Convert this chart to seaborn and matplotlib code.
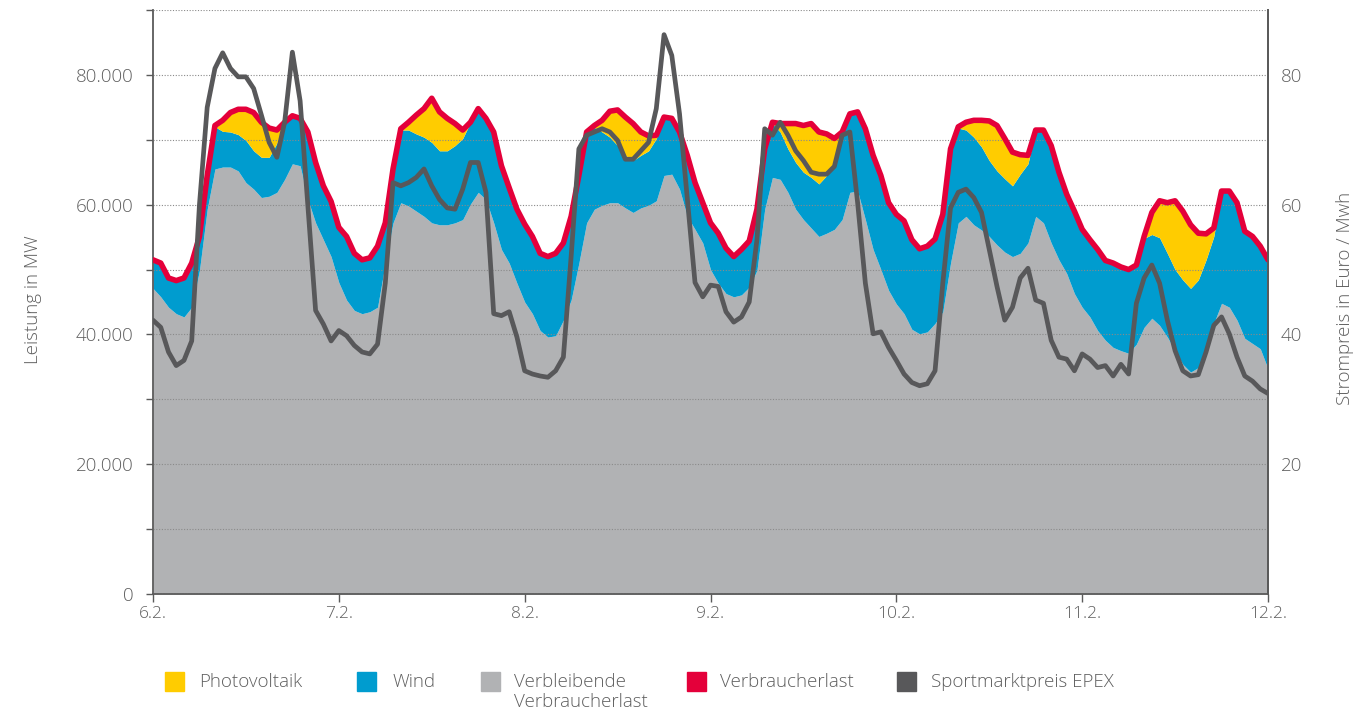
import numpy as np
import pandas as pd
import matplotlib
matplotlib.use("Agg")
import matplotlib.pyplot as plt
from matplotlib.patches import Rectangle
from matplotlib.ticker import FuncFormatter
import seaborn as sns

# ---------------- data (hourly, 6.2. 00:00 ... 12.2. 00:00), values in 1000 MW / EUR/MWh
day_labels = ["6.2.", "7.2.", "8.2.", "9.2.", "10.2.", "11.2.", "12.2."]

verbraucherlast = [
    51.5, 51.0, 48.7, 48.3, 48.7, 51.0, 55.1, 64.5, 72.2, 73.0, 74.2, 74.7, 74.7, 74.2, 72.7, 71.8, 71.5, 72.7, 73.7, 73.3, 71.2, 66.5, 62.9, 60.5,
    56.5, 55.1, 52.5, 51.5, 51.8, 53.6, 57.2, 65.5, 71.7, 72.7, 73.8, 74.8, 76.4, 74.3, 73.3, 72.5, 71.5, 72.7, 74.8, 73.3, 71.2, 66.0, 62.6, 59.3,
    57.0, 55.1, 52.5, 52.0, 52.5, 54.1, 58.2, 64.5, 71.2, 72.2, 73.0, 74.4, 74.6, 73.5, 72.5, 71.2, 70.6, 70.7, 73.5, 73.3, 71.2, 67.6, 63.4, 60.3,
    57.2, 55.6, 53.3, 52.0, 53.1, 54.4, 59.3, 68.6, 72.7, 72.5, 72.5, 72.5, 72.2, 72.5, 71.2, 70.9, 70.2, 71.2, 74.0, 74.3, 71.7, 67.6, 64.5, 60.3,
    58.5, 57.5, 54.6, 53.2, 53.6, 54.7, 58.5, 68.6, 72.0, 72.7, 73.0, 73.0, 72.9, 72.2, 70.2, 68.1, 67.7, 67.6, 71.5, 71.5, 69.1, 65.0, 61.6, 59.0,
    56.2, 54.6, 53.1, 51.4, 51.0, 50.4, 50.0, 50.7, 55.1, 58.8, 60.6, 60.3, 60.6, 59.0, 56.9, 55.6, 55.5, 56.4, 62.1, 62.1, 60.3, 55.9, 55.1, 53.6,
    51.5,
]

photovoltaik = [
    0, 0, 0, 0, 0, 0, 0, 0, 0.2, 1.7, 3.0, 3.9, 4.8, 5.9, 5.4, 4.5, 2.0, 0, 0, 0, 0, 0, 0, 0,
    0, 0, 0, 0, 0, 0, 0, 0, 0.2, 1.2, 2.9, 4.4, 6.8, 6.0, 5.0, 3.4, 1.3, 0, 0, 0, 0, 0, 0, 0,
    0, 0, 0, 0, 0, 0, 0, 0, 0, 0.3, 1.8, 4.0, 5.5, 5.9, 5.7, 3.6, 2.3, 0.5, 0, 0, 0, 0, 0, 0,
    0, 0, 0, 0, 0, 0, 0, 0, 0.2, 1.3, 3.9, 6.0, 7.2, 8.3, 8.0, 6.4, 3.4, 0, 0, 0, 0, 0, 0, 0,
    0, 0, 0, 0, 0, 0, 0, 0, 0.2, 1.2, 2.6, 4.1, 6.1, 7.0, 6.2, 5.2, 3.0, 1.3, 0, 0, 0, 0, 0, 0,
    0, 0, 0, 0, 0, 0, 0, 0, 0.3, 3.4, 5.7, 7.8, 10.6, 10.6, 9.8, 7.2, 4.0, 1.3, 0, 0, 0, 0, 0, 0,
    0,
]

verbleibende_last = [
    47.1, 45.8, 44.2, 43.2, 42.7, 44.2, 49.9, 59.3, 65.5, 65.8, 65.8, 65.2, 63.4, 62.4, 61.1, 61.3, 61.9, 63.9, 66.3, 66.0, 60.8, 57.2, 54.6, 52.0,
    48.0, 45.3, 43.7, 43.2, 43.5, 44.2, 51.0, 57.2, 60.3, 59.8, 59.0, 58.2, 57.2, 56.9, 56.9, 57.2, 57.7, 60.1, 61.9, 60.8, 57.2, 53.1, 51.0, 47.9,
    45.0, 43.2, 40.6, 39.6, 39.8, 42.2, 45.3, 51.0, 57.2, 59.3, 59.9, 60.3, 60.3, 59.5, 58.8, 59.5, 59.9, 60.6, 64.5, 64.7, 62.4, 58.2, 56.2, 54.1,
    50.0, 47.9, 46.3, 45.8, 46.1, 47.3, 49.9, 59.3, 64.2, 63.9, 61.9, 59.3, 57.7, 56.4, 55.1, 55.6, 56.2, 57.7, 61.9, 62.1, 57.7, 53.1, 50.0, 46.8,
    44.7, 43.2, 40.8, 40.1, 40.4, 41.7, 43.5, 51.0, 57.2, 58.2, 56.9, 56.1, 55.1, 53.8, 52.7, 52.0, 52.5, 54.1, 58.2, 57.2, 54.1, 51.5, 49.4, 46.3,
    44.2, 42.7, 40.6, 39.1, 38.0, 37.5, 37.1, 38.5, 41.1, 42.5, 41.4, 39.6, 37.5, 35.4, 34.2, 34.9, 37.3, 41.7, 44.8, 44.2, 42.2, 39.4, 38.6, 37.8,
    34.7,
]

strompreis = [
    42.2, 41.1, 37.3, 35.2, 36.0, 39.0, 60.0, 75.0, 81.0, 83.4, 81.0, 79.7, 79.7, 77.9, 73.8, 69.6, 67.3, 72.7, 83.5, 76.0, 59.8, 43.7, 41.6, 39.0,
    40.6, 39.8, 38.3, 37.3, 37.0, 38.5, 47.9, 63.4, 62.9, 63.4, 64.2, 65.5, 62.9, 60.8, 59.5, 59.3, 62.4, 66.5, 66.5, 61.9, 43.2, 42.9, 43.5, 39.6,
    34.4, 33.9, 33.6, 33.4, 34.4, 36.5, 52.0, 68.6, 70.7, 71.2, 71.7, 71.2, 69.9, 67.0, 67.0, 68.3, 69.6, 74.8, 86.2, 83.0, 74.0, 61.0, 48.0, 45.8,
    47.6, 47.4, 43.5, 41.9, 42.7, 45.0, 54.6, 71.7, 70.7, 72.7, 70.7, 68.3, 66.8, 65.0, 64.7, 64.7, 65.9, 70.7, 71.2, 60.3, 47.9, 40.1, 40.4, 38.0,
    36.0, 33.9, 32.6, 32.1, 32.4, 34.4, 47.9, 59.5, 61.9, 62.4, 61.1, 58.8, 53.1, 47.4, 42.2, 44.2, 48.7, 50.2, 45.3, 44.8, 39.1, 36.5, 36.2, 34.4,
    37.0, 36.2, 34.9, 35.2, 33.6, 35.4, 33.9, 44.8, 48.7, 50.7, 47.9, 42.2, 37.5, 34.4, 33.6, 33.8, 37.3, 41.4, 42.7, 40.1, 36.5, 33.6, 32.8, 31.6,
    30.9,
]

# ---------------- frame
hours = np.arange(len(verbraucherlast))
df = pd.DataFrame({
    "stunde": hours,
    "last": np.array(verbraucherlast) * 1000,
    "pv": np.array(photovoltaik) * 1000,
    "rest": np.array(verbleibende_last) * 1000,
    "preis": np.array(strompreis),
})
df["wind"] = df["last"] - df["pv"] - df["rest"]

C_PV = "#FFCC00"
C_WIND = "#009CCF"
C_REST = "#B1B2B4"
C_LAST = "#E4003A"
C_PREIS = "#58585A"
TXT = "#5F5F5F"
AX = "#5A5A5A"

sns.set_theme(style="white")
plt.rcParams["font.family"] = ["Open Sans", "DejaVu Sans"]

W, H = 1357, 717
fig = plt.figure(figsize=(W / 100, H / 100), dpi=100)
ax = fig.add_axes([153 / W, 1 - 594 / H, (1268 - 153) / W, (594 - 10) / H])

ax.stackplot(df["stunde"], df["rest"], df["wind"], df["pv"],
             colors=[C_REST, C_WIND, C_PV], linewidth=0, zorder=2)
sns.lineplot(data=df, x="stunde", y="last", ax=ax, color=C_LAST, linewidth=4.0,
             zorder=4, legend=False)

ax.set_xlim(0, 144)
ax.set_ylim(0, 90000)
ax.set_yticks(np.arange(0, 90001, 10000))
ax.yaxis.set_major_formatter(FuncFormatter(
    lambda v, p: (f"{int(v):,}".replace(",", ".") if int(v) % 20000 == 0 else "")))
ax.set_xticks(np.arange(0, 145, 24))
ax.set_xticklabels(day_labels)
ax.grid(axis="y", linestyle=(0, (1, 1.5)), color="#8A8A8A", linewidth=0.8)
ax.grid(axis="x", visible=False)
ax.set_axisbelow(False)
for gl in ax.get_ygridlines():
    gl.set_zorder(3)
ax.set_xlabel("")
ax.set_ylabel("")
ax.tick_params(axis="y", which="both", left=True, length=5, width=1, color=AX,
               labelsize=13.5, labelcolor=TXT, pad=9)
ax.tick_params(axis="x", bottom=True, length=6, width=1, color=AX,
               labelsize=12.5, labelcolor=TXT, pad=3)
for lab in ax.get_xticklabels() + ax.get_yticklabels():
    lab.set_fontweight("light")
ax.spines["top"].set_visible(False)
for s in ["left", "bottom", "right"]:
    ax.spines[s].set_color(AX)
    ax.spines[s].set_linewidth(1.3)

ax2 = ax.twinx()
sns.lineplot(data=df, x="stunde", y="preis", ax=ax2, color=C_PREIS, linewidth=3.4,
             legend=False)
ax2.set_ylim(0, 90)
ax2.set_yticks([20, 40, 60, 80])
ax2.set_ylabel("")
ax2.tick_params(axis="y", right=True, length=0, labelsize=13.5, labelcolor=TXT, pad=9)
for lab in ax2.get_yticklabels():
    lab.set_fontweight("light")
for s in ["top", "left", "bottom"]:
    ax2.spines[s].set_visible(False)
ax2.spines["right"].set_color(AX)
ax2.spines["right"].set_linewidth(1.3)
ax2.grid(False)

fig.text(33 / W, 1 - 300 / H, "Leistung in MW", rotation=90, ha="center", va="center",
         fontsize=13.5, color=TXT, fontweight="light")
fig.text(1345 / W, 1 - 298 / H, "Strompreis in Euro / Mwh", rotation=90, ha="center",
         va="center", fontsize=13.5, color=TXT, fontweight="light")

# legend
items = [
    (C_PV, 165, 199, "Photovoltaik"),
    (C_WIND, 357, 393, "Wind"),
    (C_REST, 481, 514, "Verbleibende\nVerbraucherlast"),
    (C_LAST, 687, 720, "Verbraucherlast"),
    (C_PREIS, 897, 931, "Sportmarktpreis EPEX"),
]
for col, px, tx, label in items:
    fig.patches.append(Rectangle((px / W, 1 - 691 / H), 19 / W, 19 / H,
                                 transform=fig.transFigure, color=col, figure=fig))
    fig.text(tx / W, 1 - 673 / H, label, ha="left", va="top", fontsize=13.5,
             color=TXT, fontweight="light", linespacing=1.15)

fig.savefig("out.png", dpi=100)
